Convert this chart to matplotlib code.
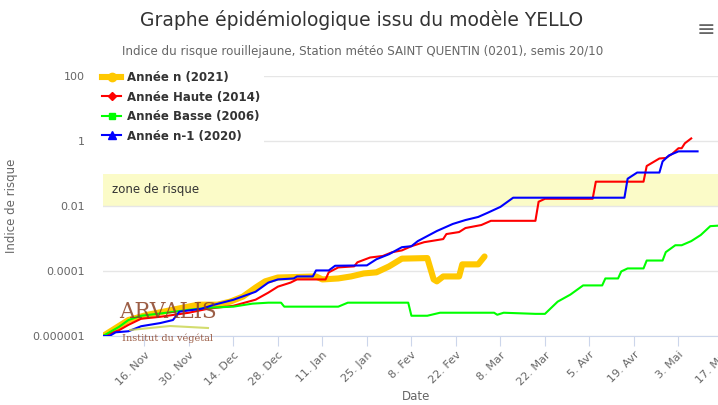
import matplotlib
matplotlib.use("Agg")
import matplotlib.pyplot as plt
from matplotlib.lines import Line2D
import pandas as pd

# --- data ---
annee_n_dates = ["2020-11-03", "2020-11-11", "2020-11-17", "2020-11-22", "2020-11-28", "2020-12-03",
                 "2020-12-09", "2020-12-13", "2020-12-17", "2020-12-21", "2020-12-24", "2020-12-28",
                 "2021-01-09", "2021-01-11", "2021-01-16", "2021-01-20", "2021-01-24", "2021-01-28",
                 "2021-02-01", "2021-02-05", "2021-02-13", "2021-02-15", "2021-02-16", "2021-02-18",
                 "2021-02-23", "2021-02-24", "2021-03-01", "2021-03-03"]
annee_n_vals = [1.0e-6, 3.1e-6, 4.5e-6, 5.6e-6, 7.4e-6, 9.2e-6,
                9.2e-6, 1.14e-5, 1.63e-5, 3.1e-5, 4.8e-5, 6.3e-5,
                6.8e-5, 5.5e-5, 5.9e-5, 6.8e-5, 8.4e-5, 9.1e-5,
                1.39e-4, 2.4e-4, 2.5e-4, 5.5e-5, 4.8e-5, 6.8e-5,
                6.8e-5, 1.6e-4, 1.6e-4, 2.8e-4]

haute_dates = ["2020-11-03", "2020-11-08", "2020-11-11", "2020-11-15", "2020-11-21", "2020-11-30",
               "2020-12-06", "2020-12-14", "2020-12-21", "2020-12-25", "2020-12-28", "2021-01-01",
               "2021-01-03", "2021-01-12", "2021-01-13", "2021-01-16", "2021-01-21", "2021-01-22",
               "2021-01-26", "2021-01-30", "2021-02-02", "2021-02-05", "2021-02-08", "2021-02-12",
               "2021-02-18", "2021-02-19", "2021-02-23", "2021-02-25", "2021-03-02", "2021-03-05",
               "2021-03-19", "2021-03-20", "2021-03-22", "2021-04-06", "2021-04-07", "2021-04-22",
               "2021-04-23", "2021-04-27", "2021-04-29", "2021-05-01", "2021-05-03", "2021-05-04",
               "2021-05-05", "2021-05-07"]
haute_vals = [1.0e-6, 1.5e-6, 2.2e-6, 3.4e-6, 3.9e-6, 5.2e-6,
              6.9e-6, 8.5e-6, 1.31e-5, 2.16e-5, 3.3e-5, 4.4e-5,
              5.5e-5, 5.5e-5, 9.1e-5, 1.29e-4, 1.39e-4, 1.85e-4,
              2.6e-4, 2.9e-4, 3.8e-4, 4.3e-4, 5.8e-4, 7.7e-4,
              9.6e-4, 1.37e-3, 1.58e-3, 2.1e-3, 2.6e-3, 3.5e-3,
              3.5e-3, 1.35e-2, 1.67e-2, 1.67e-2, 5.6e-2, 5.6e-2,
              0.17, 0.29, 0.30, 0.40, 0.60, 0.60,
              0.85, 1.2]

basse_dates = ["2020-11-03", "2020-11-08", "2020-11-11", "2020-11-15", "2020-11-23", "2020-11-30",
               "2020-12-06", "2020-12-14", "2020-12-20", "2020-12-25", "2020-12-29", "2020-12-30",
               "2021-01-16", "2021-01-19", "2021-02-07", "2021-02-08", "2021-02-13", "2021-02-17",
               "2021-03-06", "2021-03-07", "2021-03-09", "2021-03-19", "2021-03-22", "2021-03-26",
               "2021-03-30", "2021-04-03", "2021-04-09", "2021-04-10", "2021-04-14", "2021-04-15",
               "2021-04-17", "2021-04-22", "2021-04-23", "2021-04-28", "2021-04-29", "2021-05-02",
               "2021-05-04", "2021-05-07", "2021-05-10", "2021-05-13", "2021-05-16"]
basse_vals = [1.0e-6, 1.9e-6, 3.1e-6, 4.2e-6, 5.2e-6, 6.4e-6,
              7.4e-6, 8.0e-6, 9.9e-6, 1.06e-5, 1.06e-5, 8.0e-6,
              8.0e-6, 1.06e-5, 1.06e-5, 4.2e-6, 4.2e-6, 5.2e-6,
              5.2e-6, 4.5e-6, 5.2e-6, 4.8e-6, 4.8e-6, 1.14e-5,
              1.88e-5, 3.6e-5, 3.6e-5, 5.9e-5, 5.9e-5, 9.7e-5,
              1.2e-4, 1.2e-4, 2.1e-4, 2.1e-4, 3.8e-4, 6.2e-4,
              6.2e-4, 8.3e-4, 1.28e-3, 2.4e-3, 2.5e-3]

n1_dates = ["2020-11-03", "2020-11-05", "2020-11-07", "2020-11-11", "2020-11-15", "2020-11-21",
            "2020-11-25", "2020-11-27", "2020-12-04", "2020-12-08", "2020-12-14", "2020-12-21",
            "2020-12-25", "2020-12-28", "2021-01-02", "2021-01-03", "2021-01-08", "2021-01-09",
            "2021-01-13", "2021-01-15", "2021-01-25", "2021-01-28", "2021-02-01", "2021-02-05",
            "2021-02-08", "2021-02-10", "2021-02-16", "2021-02-21", "2021-02-25", "2021-03-01",
            "2021-03-04", "2021-03-08", "2021-03-12", "2021-04-16", "2021-04-17", "2021-04-20",
            "2021-04-27", "2021-04-28", "2021-04-30", "2021-05-03", "2021-05-09"]
n1_vals = [1.0e-6, 1.0e-6, 1.3e-6, 1.4e-6, 2.0e-6, 2.5e-6,
           3.1e-6, 5.6e-6, 6.9e-6, 9.2e-6, 1.3e-5, 2.3e-5,
           4.4e-5, 5.5e-5, 5.9e-5, 6.8e-5, 6.8e-5, 1.04e-4,
           1.04e-4, 1.45e-4, 1.49e-4, 2.3e-4, 3.3e-4, 5.4e-4,
           5.8e-4, 8.3e-4, 1.7e-3, 2.8e-3, 3.7e-3, 4.6e-3,
           6.2e-3, 9.4e-3, 1.8e-2, 1.8e-2, 6.9e-2, 0.107,
           0.107, 0.235, 0.36, 0.48, 0.48]

tick_dates = pd.date_range("2020-11-16", "2021-05-17", freq="14D")
tick_labels = ["16. Nov", "30. Nov", "14. Dec", "28. Dec", "11. Jan", "25. Jan", "8. Fev",
               "22. Fev", "8. Mar", "22. Mar", "5. Avr", "19. Avr", "3. Mai", "17. Mai"]
y_ticks = [1e-6, 1e-4, 1e-2, 1, 100]
y_labels = ["0.000001", "0.0001", "0.01", "1", "100"]

plt.rcParams['font.family'] = ['DejaVu Sans']

fig = plt.figure(figsize=(7.18, 4.05), dpi=100)
ax = fig.add_axes([103 / 718, 69 / 405, 627 / 718, 260 / 405])

ax.axhspan(0.01, 0.1, color="#fbfbc8", zorder=0, lw=0)
ax.text(0.015, 10 ** -1.5, "zone de risque", transform=ax.get_yaxis_transform(),
        va="center", ha="left", fontsize=8.5, color="#333333")

ax.plot(pd.to_datetime(annee_n_dates), annee_n_vals, color="#ffc800", lw=4.4,
        solid_capstyle="round", solid_joinstyle="round", zorder=3)
ax.plot(pd.to_datetime(haute_dates), haute_vals, color="#ff0000", lw=1.5, zorder=4)
ax.plot(pd.to_datetime(basse_dates), basse_vals, color="#00ff00", lw=1.5, zorder=4)
ax.plot(pd.to_datetime(n1_dates), n1_vals, color="#0000ff", lw=1.5, zorder=5)

ax.set_yscale("log")
ax.set_ylim(1e-6, 100)
ax.set_yticks(y_ticks)
ax.set_yticklabels(y_labels)
ax.yaxis.set_minor_locator(matplotlib.ticker.NullLocator())
ax.grid(axis="y", color="#e6e6e6", lw=1)
ax.set_axisbelow(True)

x0 = pd.Timestamp("2020-11-03")
ax.set_xlim(x0, x0 + pd.Timedelta(days=197.2))
ax.set_xticks(tick_dates)
ax.set_xticklabels(tick_labels, rotation=45, ha="right", rotation_mode="anchor")

for s in ["top", "right", "left"]:
    ax.spines[s].set_visible(False)
ax.spines["bottom"].set_color("#ccd6eb")
ax.tick_params(axis="x", colors="#ccd6eb", length=7, labelcolor="#666666", labelsize=8, pad=3)
ax.tick_params(axis="y", length=0, labelcolor="#666666", labelsize=8, pad=13)

ax.set_ylabel("Indice de risque", color="#666666", fontsize=8.5, labelpad=10)
ax.set_xlabel("Date", color="#666666", fontsize=8.5, labelpad=2)

handles = [
    Line2D([], [], color="#ffc800", lw=4.4, marker="o", ms=6),
    Line2D([], [], color="#ff0000", lw=1.5, marker="D", ms=4),
    Line2D([], [], color="#00ff00", lw=1.5, marker="s", ms=5),
    Line2D([], [], color="#0000ff", lw=1.5, marker="^", ms=6),
]
labels = ["Année n (2021)", "Année Haute (2014)", "Année Basse (2006)", "Année n-1 (2020)"]
leg = fig.legend(handles, labels, loc="upper left", bbox_to_anchor=(98 / 718, 1 - 67 / 405),
                 frameon=True, facecolor="white", edgecolor="none", fancybox=False, framealpha=1,
                 borderpad=0.35, borderaxespad=0, handlelength=1.6, handletextpad=0.5,
                 labelspacing=0.55, prop={"weight": "bold", "size": 8.5})
leg.set_zorder(20)
for t in leg.get_texts():
    t.set_color("#333333")

# logo watermark
fig.text(168 / 718, 1 - 312 / 405, "ARVALIS", family="DejaVu Serif", fontsize=15.5,
         color="#8b4226", alpha=0.85, ha="center", va="center", zorder=10)
fig.text(168 / 718, 1 - 338 / 405, "Institut du végétal", family="DejaVu Serif", fontsize=7,
         color="#8b4226", alpha=0.85, ha="center", va="center", zorder=10)
fig.add_artist(Line2D([130 / 718, 170 / 718, 208 / 718], [1 - 330 / 405, 1 - 326 / 405, 1 - 328 / 405],
                      color="#c8d44a", lw=1.5, alpha=0.8))

fig.text(362 / 718, 1 - 20 / 405, "Graphe épidémiologique issu du modèle YELLO",
         family=["Liberation Sans Narrow", "DejaVu Sans"], fontsize=13.5, color="#333333",
         ha="center", va="center")
fig.text(363 / 718, 1 - 52 / 405,
         "Indice du risque rouillejaune, Station météo SAINT QUENTIN (0201), semis 20/10",
         family=["Liberation Sans Narrow", "DejaVu Sans"], fontsize=8.6, color="#666666",
         ha="center", va="center")
fig.text(706 / 718, 1 - 30 / 405, "≡", fontsize=16, color="#666666", ha="center", va="center")

fig.savefig("out.png", dpi=100)
